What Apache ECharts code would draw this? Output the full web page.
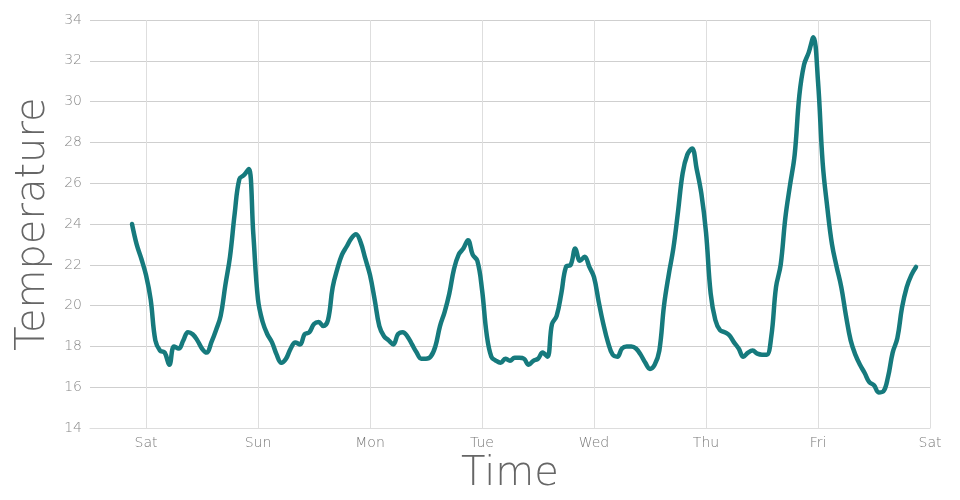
<!DOCTYPE html>
<html>
<head>
<meta charset="utf-8">
<script src="https://cdn.jsdelivr.net/npm/echarts@6/dist/echarts.min.js"></script>
<style>
html,body{margin:0;padding:0;background:#fff;}
#chart{width:960px;height:500px;}
</style>
</head>
<body>
<div id="chart"></div>
<script>
// hours relative to Saturday 00:00 (first labelled day)
const startHour = -3;
const temperatures = [
  24.0, 23.0, 22.3, 21.5, 20.3, 18.3, 17.8, 17.7, 17.1, 18.0, 17.9, 18.3, 18.7, 18.6, 18.3, 17.9,
  17.7, 18.2, 18.8, 19.5, 21.0, 22.4, 24.5, 26.2, 26.4, 26.7, 23.5, 20.3, 19.2, 18.6, 18.2, 17.6,
  17.2, 17.4, 17.9, 18.2, 18.1, 18.6, 18.7, 19.1, 19.2, 19.0, 19.3, 20.9, 21.8, 22.5, 22.9, 23.3,
  23.5, 23.1, 22.3, 21.5, 20.3, 19.0, 18.5, 18.3, 18.1, 18.6, 18.7, 18.5, 18.1, 17.7, 17.4, 17.4,
  17.5, 18.0, 19.0, 19.7, 20.6, 21.8, 22.5, 22.8, 23.2, 22.5, 22.2, 20.8, 18.6, 17.5, 17.3, 17.2,
  17.4, 17.3, 17.45, 17.45, 17.4, 17.1, 17.3, 17.4, 17.7, 17.5, 19.1, 19.5, 20.6, 21.9, 22.0, 22.8,
  22.2, 22.4, 21.9, 21.4, 20.2, 19.1, 18.2, 17.6, 17.5, 17.9, 18.0, 18.0, 17.9, 17.6, 17.2, 16.9,
  17.1, 17.8, 20.0, 21.5, 22.8, 24.6, 26.5, 27.4, 27.7, 26.7, 25.5, 23.6, 20.6, 19.3, 18.8, 18.7,
  18.55, 18.2, 17.9, 17.5, 17.7, 17.8, 17.65, 17.6, 17.6, 18.5, 20.9, 22.0, 24.3, 25.9, 27.4, 30.3,
  31.8, 32.4, 33.15, 31.0, 27.0, 24.8, 23.0, 21.9, 20.9, 19.5, 18.3, 17.6, 17.1, 16.7, 16.25, 16.1,
  15.75, 15.8, 16.5, 17.7, 18.4, 19.9, 20.9, 21.5, 21.9
];
const dayNames = ['Sat', 'Sun', 'Mon', 'Tue', 'Wed', 'Thu', 'Fri', 'Sat'];
const dayTicks = [0, 24, 48, 72, 96, 120, 144, 168];

const points = temperatures.map((v, i) => [startHour + i, v]);
const font = '"DejaVu Sans", sans-serif';

const chart = echarts.init(document.getElementById('chart'));
chart.setOption({
  animation: false,
  backgroundColor: '#ffffff',
  grid: { left: 90, right: 30, top: 20, bottom: 66, containLabel: false },
  xAxis: {
    type: 'value',
    min: -12,
    max: 168,
    interval: 12,
    name: 'Time',
    nameLocation: 'middle',
    nameGap: 14,
    nameTextStyle: { fontFamily: font, fontWeight: 200, fontSize: 40, color: '#666' },
    axisLine: { show: true, lineStyle: { color: '#ddd', width: 1 } },
    axisTick: { show: false, customValues: dayTicks },
    axisLabel: {
      customValues: dayTicks,
      formatter: v => (v % 24 === 0 && v >= 0) ? dayNames[v / 24] : '',
      fontFamily: font, fontWeight: 200, fontSize: 14, color: '#777', margin: 8
    },
    splitLine: { show: true, lineStyle: { color: '#dedede', width: 1 } }
  },
  yAxis: {
    type: 'value',
    min: 14,
    max: 34,
    interval: 2,
    name: 'Temperature',
    nameLocation: 'middle',
    nameGap: 35,
    nameTextStyle: { fontFamily: font, fontWeight: 200, fontSize: 40, color: '#666' },
    axisLine: { show: false },
    axisTick: { show: false },
    axisLabel: { fontFamily: font, fontWeight: 200, fontSize: 14, color: '#888', margin: 8 },
    splitLine: { show: true, lineStyle: { color: '#cfcfcf', width: 1 } }
  },
  series: [{
    type: 'line',
    data: points,
    smooth: 0.4,
    showSymbol: false,
    lineStyle: { color: '#167a7d', width: 4.5, cap: 'round', join: 'round' },
    itemStyle: { color: '#167a7d' }
  }]
});
</script>
</body>
</html>
